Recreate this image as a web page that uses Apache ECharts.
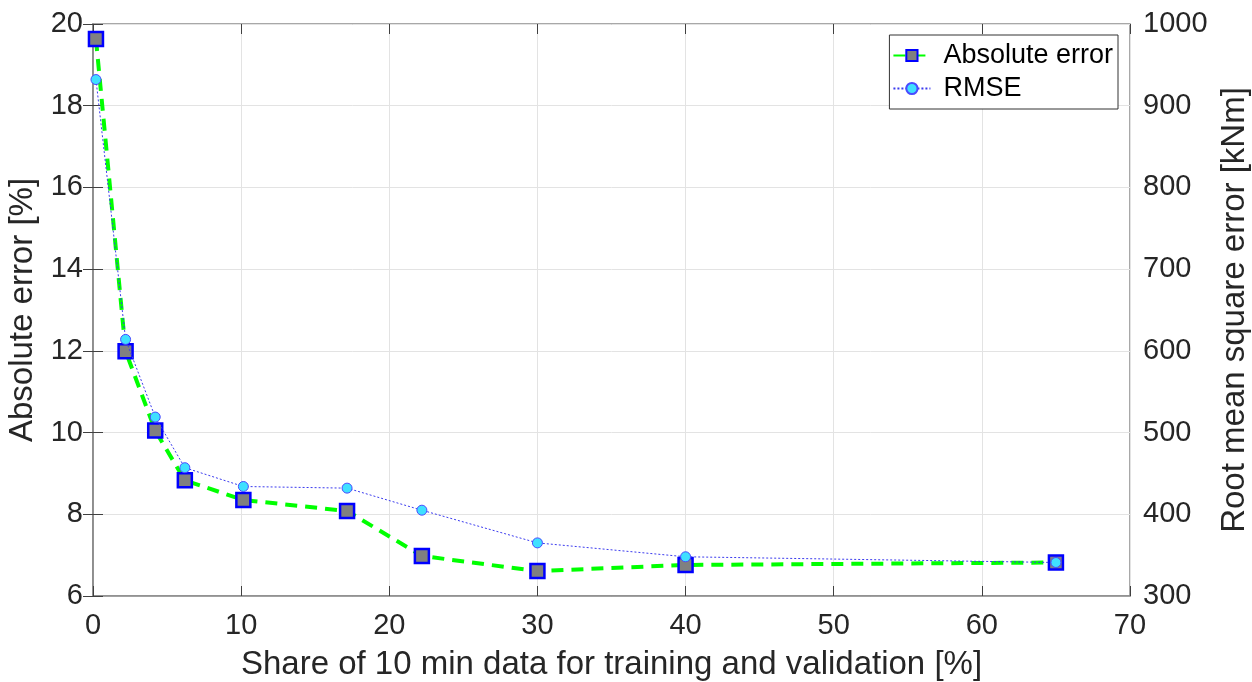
<!DOCTYPE html>
<html>
<head>
<meta charset="utf-8">
<script src="https://cdn.jsdelivr.net/npm/echarts@6/dist/echarts.min.js"></script>
<style>html,body{margin:0;padding:0;background:#fff}#c{width:1252px;height:682px}</style>
</head>
<body>
<div id="c"></div>
<script>
const share = [0.2, 2.2, 4.2, 6.2, 10.15, 17.15, 22.2, 30, 40, 65];
const absErr = [19.63, 11.99, 10.05, 8.83, 8.35, 8.08, 6.98, 6.61, 6.76, 6.82];
const rmse = [932, 614, 519, 457, 434, 432, 405, 365, 348, 341];
const seriesNames = ['Absolute error', 'RMSE'];

const FONT = 'Liberation Sans, Arial, sans-serif';
const txt = '#262626';
const axisCol = '#8c8c8c';
const gridCol = '#e3e3e3';
const tickCol = '#404040';

const chart = echarts.init(document.getElementById('c'));
chart.setOption({
  animation: false,
  textStyle: {fontFamily: FONT},
  grid: {left: 93, right: 122, top: 24, bottom: 86, containLabel: false, outerBoundsMode: 'none',
         show: true, borderColor: axisCol, borderWidth: 1.5, backgroundColor: 'transparent'},
  legend: {
    orient: 'vertical', right: 134, top: 35,
    backgroundColor: '#fff', borderColor: '#333', borderWidth: 1,
    padding: [7, 5, 7, 3], itemGap: 6, itemWidth: 37, itemHeight: 14,
    textStyle: {fontFamily: FONT, fontSize: 27, color: '#000', padding: [0, 0, 0, 8]},
    data: seriesNames
  },
  xAxis: [{
    type: 'value', min: 0, max: 70, interval: 10,
    name: 'Share of 10 min data for training and validation [%]',
    nameLocation: 'middle', nameGap: 52,
    nameTextStyle: {fontSize: 33, color: txt, fontFamily: FONT},
    axisLine: {show: true, lineStyle: {color: axisCol, width: 1.5}},
    axisTick: {show: true, inside: true, length: 10, lineStyle: {color: tickCol}},
    axisLabel: {fontSize: 29, color: txt, margin: 15, fontFamily: FONT},
    splitLine: {show: true, lineStyle: {color: gridCol, width: 1}}
  }, {
    type: 'value', min: 0, max: 70, interval: 10, position: 'top',
    axisLine: {show: false}, axisLabel: {show: false}, splitLine: {show: false},
    axisTick: {show: true, inside: true, length: 10, lineStyle: {color: tickCol}}
  }],
  yAxis: [{
    type: 'value', min: 6, max: 20, interval: 2,
    name: 'Absolute error [%]', nameLocation: 'middle', nameGap: 42, nameRotate: 90,
    nameTextStyle: {fontSize: 33, color: txt, fontFamily: FONT},
    axisLine: {show: true, lineStyle: {color: axisCol, width: 1.5}},
    axisTick: {show: true, inside: true, length: 10, lineStyle: {color: tickCol}},
    axisLabel: {fontSize: 29, color: txt, margin: 10, fontFamily: FONT},
    splitLine: {show: true, lineStyle: {color: gridCol, width: 1}}
  }, {
    type: 'value', min: 300, max: 1000, interval: 100, position: 'right',
    name: 'Root mean square error [kNm]', nameLocation: 'middle', nameGap: 85, nameRotate: 90,
    nameTextStyle: {fontSize: 33, color: txt, fontFamily: FONT},
    axisLine: {show: true, lineStyle: {color: axisCol, width: 1.5}},
    axisTick: {show: true, inside: true, length: 10, lineStyle: {color: tickCol}},
    axisLabel: {fontSize: 29, color: txt, margin: 13, fontFamily: FONT, formatter: v => String(v)},
    splitLine: {show: false}
  }],
  series: [{
    name: seriesNames[0], type: 'line', xAxisIndex: 0, yAxisIndex: 0,
    data: share.map((x, i) => [x, absErr[i]]),
    symbol: 'rect', symbolSize: 14,
    itemStyle: {color: '#808080', borderColor: '#0000ff', borderWidth: 2.5},
    lineStyle: {color: '#00ff00', width: 4, type: [12, 8]},
    z: 2
  }, {
    name: seriesNames[1], type: 'line', xAxisIndex: 0, yAxisIndex: 1,
    data: share.map((x, i) => [x, rmse[i]]),
    symbol: 'circle', symbolSize: 10,
    itemStyle: {color: '#3fe0ff', borderColor: '#4a4aff', borderWidth: 1},
    lineStyle: {color: '#3a3aee', width: 1, type: [2, 2]},
    z: 3
  }]
});
</script>
</body>
</html>
